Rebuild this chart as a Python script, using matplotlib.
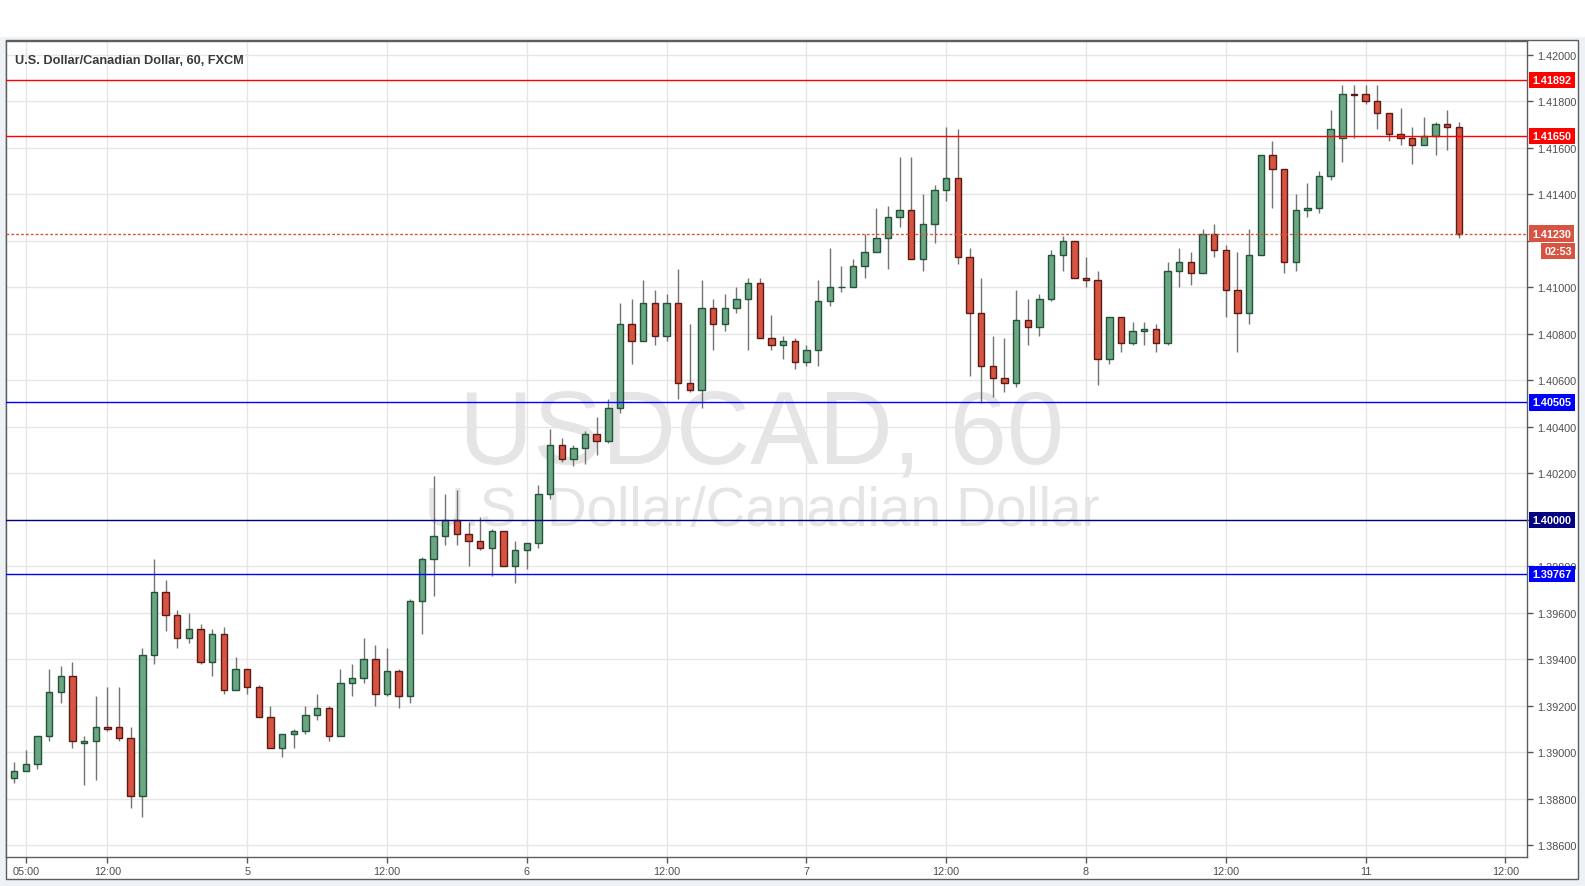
import matplotlib.pyplot as plt
from matplotlib.patches import Rectangle
import matplotlib.transforms as mtransforms

plt.rcParams['font.family'] = ['Liberation Sans', 'DejaVu Sans']

# hourly USD/CAD candles (FXCM, 60)
opens = [1.3889, 1.3892, 1.3895, 1.3907, 1.3926, 1.3933, 1.3904, 1.3905, 1.3911, 1.3911,
         1.3906, 1.3881, 1.3942, 1.3969, 1.3959, 1.3949, 1.3953, 1.3939, 1.3951, 1.3927,
         1.3936, 1.3928, 1.3915, 1.3902, 1.3908, 1.3909, 1.3916, 1.3919, 1.3907, 1.3930,
         1.3932, 1.3940, 1.3925, 1.3935, 1.3924, 1.3965, 1.3983, 1.3993, 1.4000, 1.3994,
         1.3991, 1.3988, 1.3995, 1.3980, 1.3987, 1.3990, 1.4011, 1.4032, 1.4026, 1.4031,
         1.4037, 1.4034, 1.4048, 1.4084, 1.4077, 1.4093, 1.4079, 1.4093, 1.4059, 1.4056,
         1.4091, 1.4084, 1.4091, 1.4095, 1.4102, 1.4078, 1.4075, 1.4077, 1.4068, 1.4073,
         1.4094, 1.4100, 1.4100, 1.4109, 1.4115, 1.4121, 1.4130, 1.4133, 1.4112, 1.4127,
         1.4142, 1.4147, 1.4113, 1.4089, 1.4066, 1.4061, 1.4059, 1.4086, 1.4083, 1.4095,
         1.4114, 1.4120, 1.4104, 1.4103, 1.4069, 1.4087, 1.4076, 1.4081, 1.4082, 1.4076,
         1.4107, 1.4111, 1.4106, 1.4123, 1.4116, 1.4099, 1.4089, 1.4114, 1.4157, 1.4151,
         1.4111, 1.4133, 1.4134, 1.4148, 1.4164, 1.4183, 1.4183, 1.4180, 1.4175, 1.4166,
         1.4164, 1.4161, 1.4165, 1.4170, 1.4169]
highs = [1.3896, 1.3901, 1.3907, 1.3936, 1.3937, 1.3939, 1.3907, 1.3924, 1.3928, 1.3928,
         1.3911, 1.3945, 1.3983, 1.3974, 1.3961, 1.3960, 1.3955, 1.3953, 1.3954, 1.3941,
         1.3936, 1.3929, 1.3920, 1.3908, 1.3910, 1.3920, 1.3925, 1.3920, 1.3936, 1.3938,
         1.3949, 1.3946, 1.3945, 1.3936, 1.3966, 1.3984, 1.4019, 1.4011, 1.4013, 1.3999,
         1.4001, 1.3996, 1.3995, 1.3991, 1.3990, 1.4015, 1.4039, 1.4035, 1.4032, 1.4038,
         1.4044, 1.4052, 1.4093, 1.4095, 1.4103, 1.4099, 1.4097, 1.4108, 1.4084, 1.4103,
         1.4095, 1.4097, 1.4100, 1.4104, 1.4104, 1.4088, 1.4079, 1.4078, 1.4075, 1.4103,
         1.4117, 1.4109, 1.4112, 1.4123, 1.4134, 1.4135, 1.4156, 1.4156, 1.4140, 1.4144,
         1.4169, 1.4168, 1.4117, 1.4104, 1.4079, 1.4078, 1.4099, 1.4095, 1.4097, 1.4116,
         1.4122, 1.4120, 1.4113, 1.4107, 1.4087, 1.4087, 1.4085, 1.4085, 1.4084, 1.4111,
         1.4117, 1.4115, 1.4125, 1.4127, 1.4118, 1.4115, 1.4125, 1.4157, 1.4163, 1.4151,
         1.4140, 1.4145, 1.4150, 1.4176, 1.4187, 1.4187, 1.4187, 1.4187, 1.4175, 1.4177,
         1.4169, 1.4173, 1.4171, 1.4176, 1.4171]
lows = [1.3887, 1.3892, 1.3893, 1.3905, 1.3921, 1.3902, 1.3886, 1.3888, 1.3909, 1.3905,
        1.3876, 1.3872, 1.3938, 1.3952, 1.3945, 1.3947, 1.3938, 1.3933, 1.3925, 1.3927,
        1.3925, 1.3915, 1.3902, 1.3898, 1.3902, 1.3908, 1.3914, 1.3905, 1.3907, 1.3924,
        1.3930, 1.3920, 1.3924, 1.3919, 1.3921, 1.3951, 1.3967, 1.3989, 1.3989, 1.3980,
        1.3987, 1.3976, 1.3980, 1.3973, 1.3979, 1.3988, 1.4009, 1.4025, 1.4023, 1.4024,
        1.4028, 1.4033, 1.4046, 1.4067, 1.4077, 1.4075, 1.4077, 1.4052, 1.4055, 1.4048,
        1.4073, 1.4081, 1.4089, 1.4073, 1.4078, 1.4073, 1.4069, 1.4065, 1.4066, 1.4066,
        1.4092, 1.4098, 1.4100, 1.4104, 1.4115, 1.4108, 1.4126, 1.4112, 1.4107, 1.4119,
        1.4137, 1.4110, 1.4062, 1.4050, 1.4053, 1.4055, 1.4057, 1.4075, 1.4079, 1.4094,
        1.4107, 1.4104, 1.4100, 1.4058, 1.4067, 1.4072, 1.4075, 1.4075, 1.4072, 1.4075,
        1.4100, 1.4101, 1.4106, 1.4113, 1.4087, 1.4072, 1.4084, 1.4114, 1.4134, 1.4106,
        1.4107, 1.4130, 1.4132, 1.4146, 1.4154, 1.4164, 1.4179, 1.4168, 1.4163, 1.4161,
        1.4153, 1.4161, 1.4157, 1.4159, 1.4121]
closes = [1.3892, 1.3895, 1.3907, 1.3926, 1.3933, 1.3905, 1.3905, 1.3911, 1.3910, 1.3906,
          1.3881, 1.3942, 1.3969, 1.3959, 1.3949, 1.3953, 1.3939, 1.3951, 1.3927, 1.3936,
          1.3928, 1.3915, 1.3902, 1.3908, 1.3909, 1.3916, 1.3919, 1.3907, 1.3930, 1.3932,
          1.3940, 1.3925, 1.3935, 1.3924, 1.3965, 1.3983, 1.3993, 1.4000, 1.3994, 1.3991,
          1.3988, 1.3995, 1.3980, 1.3987, 1.3990, 1.4011, 1.4032, 1.4026, 1.4031, 1.4037,
          1.4034, 1.4048, 1.4084, 1.4077, 1.4093, 1.4079, 1.4093, 1.4059, 1.4056, 1.4091,
          1.4084, 1.4091, 1.4095, 1.4102, 1.4078, 1.4075, 1.4077, 1.4068, 1.4073, 1.4094,
          1.4100, 1.41003, 1.4109, 1.4115, 1.4121, 1.4130, 1.4133, 1.4112, 1.4127, 1.4142,
          1.4147, 1.4113, 1.4089, 1.4066, 1.4061, 1.4059, 1.4086, 1.4083, 1.4095, 1.4114,
          1.4120, 1.4104, 1.4103, 1.4069, 1.4087, 1.4076, 1.4081, 1.4082, 1.4076, 1.4107,
          1.4111, 1.4106, 1.4123, 1.4116, 1.4099, 1.4089, 1.4114, 1.4157, 1.4151, 1.4111,
          1.4133, 1.4134, 1.4148, 1.4168, 1.4183, 1.41828, 1.4180, 1.4175, 1.4166, 1.4164,
          1.4161, 1.4165, 1.4170, 1.4169, 1.4123]

tick_pos = [1, 8, 20, 32, 44, 56, 68, 80, 92, 104, 116, 128]
tick_labels = ['05:00', '12:00', '5', '12:00', '6', '12:00', '7', '12:00', '8', '12:00', '11', '12:00']
y_ticks = [1.386 + 0.002 * k for k in range(18)]
# labels fully hidden behind price tags in the reference
hidden_ticks = ['1.40000', '1.41200']

# horizontal levels: (price, colour)
levels = [(1.41892, '#ff0000'), (1.41650, '#ff0000'),
          (1.40505, '#0000ff'), (1.40000, '#000080'),
          (1.39767, '#0000ff')]
last_price = 1.41230
countdown = '02:53'

UP_FILL, UP_EDGE = '#6ba583', '#225437'
DN_FILL, DN_EDGE = '#d75442', '#5b1a13'
WICK = '#737373'

W, H = 1585, 887
fig = plt.figure(figsize=(W / 100, H / 100), dpi=100, facecolor='#eef1f6')
fig.patches.append(Rectangle((0, 1 - 38 / H), 1, 38 / H, transform=fig.transFigure,
                             facecolor='white', edgecolor='none', zorder=-2))
fig.patches.append(Rectangle((6 / W, 7 / H), 1572 / W, (880 - 41) / H, transform=fig.transFigure,
                             facecolor='white', edgecolor='#5d5d5d', lw=1, zorder=-1))

ax = fig.add_axes([6 / W, 29.3 / H, 1521 / W, 816.2 / H])
ax.set_zorder(1)
ax.set_facecolor('white')
ax.set_xlim(-0.7, 129.85)
ax.set_ylim(1.38551, 1.42061)

# grid
for t in y_ticks:
    ax.axhline(t, color='#e6e6e6', lw=1, zorder=0)
for p in tick_pos:
    ax.axvline(p, color='#e6e6e6', lw=1, zorder=0)

# watermark
ax.text(0.497, 0.483, 'USDCAD, 60', transform=ax.transAxes, ha='center', va='baseline',
        fontsize=74, color='#e5e5e5', zorder=0.5)
ax.text(0.497, 0.407, 'U.S. Dollar/Canadian Dollar', transform=ax.transAxes, ha='center',
        va='baseline', fontsize=39.5, color='#e5e5e5', zorder=0.5)

ax.text(0.006, 0.983, 'U.S. Dollar/Canadian Dollar, 60, FXCM', transform=ax.transAxes,
        ha='left', va='top', fontsize=9.2, fontweight='bold', color='#3a3a3a', zorder=5)

# candles
bw = 0.55
for i in range(len(opens)):
    o, h, l, c = opens[i], highs[i], lows[i], closes[i]
    up = c >= o
    ax.vlines(i, l, h, color=WICK, lw=1, zorder=2)
    lo = min(o, c)
    hgt = max(abs(c - o), 0.000012)
    ax.bar(i, hgt, bottom=lo, width=bw, color=UP_FILL if up else DN_FILL,
           edgecolor=UP_EDGE if up else DN_EDGE, lw=1, zorder=3)

# levels
for price, col in levels:
    ax.axhline(price, color=col, lw=1, zorder=4)
ax.axhline(last_price, color=DN_FILL, lw=1, ls=(0, (2, 1.5)), zorder=4)

# axis styling
ax.yaxis.tick_right()
ax.set_yticks(y_ticks)
ax.set_yticklabels(['' if '%.5f' % t in hidden_ticks else '%.5f' % t for t in y_ticks])
ax.set_xticks(tick_pos)
ax.set_xticklabels(tick_labels)
ax.tick_params(axis='both', colors='#555555', labelsize=7.8, length=4, width=1)
ax.tick_params(axis='y', pad=3, labelcolor='#4d4d4d')
ax.tick_params(axis='x', pad=3, labelcolor='#4d4d4d')
for s in ax.spines.values():
    s.set_color('#5d5d5d')
    s.set_linewidth(1)

# price tags on the right axis
trans = mtransforms.blended_transform_factory(ax.transAxes, ax.transData)
tags = levels + [(last_price, DN_FILL)]
for price, col in tags:
    ax.text(1.0035, price, '%.5f' % price, transform=trans, ha='left', va='center',
            fontsize=7.8, fontweight='bold', color='white', clip_on=False, zorder=10,
            bbox=dict(boxstyle='square,pad=0.3', facecolor=col, edgecolor='none'))
ax.text(1.0115, last_price - 0.00075, countdown, transform=trans, ha='left', va='center',
        fontsize=7.8, fontweight='bold', color='white', clip_on=False, zorder=10,
        bbox=dict(boxstyle='square,pad=0.3', facecolor=DN_FILL, edgecolor='none'))

fig.savefig('out.png', dpi=100, facecolor=fig.get_facecolor())
